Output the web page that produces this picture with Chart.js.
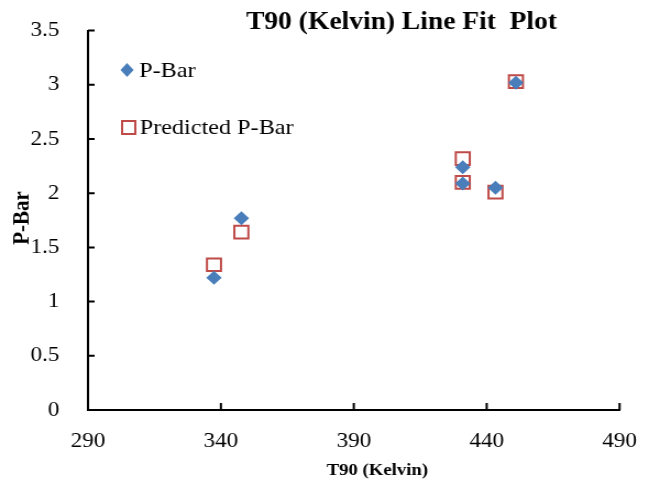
<!DOCTYPE html>
<html lang="en">
<head>
<meta charset="UTF-8">
<title>T90 (Kelvin) Line Fit Plot</title>
<script src="https://cdn.jsdelivr.net/npm/chart.js"></script>
<style>
    html, body { margin: 0; padding: 0; background: #fff; overflow: hidden; }
    /* the chart is laid out 590px wide and widened to 649px, which gives the wide serif lettering */
    #wrap { width: 590px; height: 486px; transform: scaleX(1.1); transform-origin: 0 0; }
</style>
</head>
<body>
<div id="wrap"><canvas id="fitChart"></canvas></div>

<script>
    // T90 (Kelvin) against measured and predicted P-Bar
    const t90 = [337.4, 347.7, 431.0, 431.0, 443.3, 451.0];
    const pBar = [1.22, 1.77, 2.24, 2.09, 2.05, 3.02];
    const predictedPBar = [1.34, 1.64, 2.32, 2.10, 2.01, 3.03];

    const xTicks = [290, 340, 390, 440, 490];
    const yTicks = [0, 0.5, 1, 1.5, 2, 2.5, 3, 3.5];

    const serif = "'Liberation Serif', 'Times New Roman', serif";
    const blue = '#4A7EBB';
    const red = '#BE4B48';

    const toPoints = ys => t90.map((x, i) => ({ x: x, y: ys[i] }));

    // tick marks drawn on the inside of the axes
    const innerTicks = {
        id: 'innerTicks',
        afterDraw(chart) {
            const { ctx, chartArea, scales } = chart;
            ctx.save();
            ctx.strokeStyle = '#000';
            ctx.lineWidth = 2;
            ctx.beginPath();
            scales.x.ticks.forEach(t => {
                const px = scales.x.getPixelForValue(t.value);
                ctx.moveTo(px, chartArea.bottom);
                ctx.lineTo(px, chartArea.bottom - 7);
            });
            scales.y.ticks.forEach(t => {
                const py = scales.y.getPixelForValue(t.value);
                ctx.moveTo(chartArea.left, py);
                ctx.lineTo(chartArea.left + 6, py);
            });
            ctx.stroke();
            ctx.restore();
        }
    };

    // chart title, axis titles and the legend inside the plot
    const labelsPlugin = {
        id: 'labelsPlugin',
        afterDraw(chart) {
            const ctx = chart.ctx;
            ctx.save();
            ctx.fillStyle = '#000';
            ctx.textBaseline = 'middle';
            ctx.textAlign = 'center';

            ctx.font = 'bold 25px ' + serif;
            ctx.fillText('T90 (Kelvin) Line Fit  Plot', 365, 23);

            ctx.font = 'bold 17px ' + serif;
            ctx.fillText('T90 (Kelvin)', 343, 471);

            ctx.save();
            ctx.font = 'bold 21px ' + serif;
            ctx.translate(21, 218);
            ctx.rotate(-Math.PI / 2);
            ctx.fillText('P-Bar', 0, 0);
            ctx.restore();

            // legend entries
            ctx.font = '22px ' + serif;
            ctx.textAlign = 'left';

            ctx.fillStyle = blue;
            ctx.beginPath();
            ctx.moveTo(115.5, 63);
            ctx.lineTo(121.5, 70);
            ctx.lineTo(115.5, 77);
            ctx.lineTo(109.5, 70);
            ctx.closePath();
            ctx.fill();
            ctx.fillStyle = '#000';
            ctx.fillText('P-Bar', 126.5, 71);

            ctx.strokeStyle = red;
            ctx.lineWidth = 2;
            ctx.strokeRect(111, 121, 12, 13);
            ctx.fillText('Predicted P-Bar', 127, 128);
            ctx.restore();
        }
    };

    new Chart(document.getElementById('fitChart'), {
        type: 'scatter',
        data: {
            datasets: [
                {
                    label: 'P-Bar',
                    data: toPoints(pBar),
                    pointStyle: 'rectRot',
                    pointRadius: 7,
                    pointHoverRadius: 7,
                    backgroundColor: blue,
                    borderColor: blue,
                    borderWidth: 0
                },
                {
                    label: 'Predicted P-Bar',
                    data: toPoints(predictedPBar),
                    pointStyle: 'rect',
                    pointRadius: 9,
                    pointHoverRadius: 9,
                    backgroundColor: 'rgba(255,255,255,0)',
                    borderColor: red,
                    borderWidth: 2
                }
            ]
        },
        options: {
            responsive: true,
            maintainAspectRatio: false,
            animation: false,
            layout: { padding: { left: 0, top: 30, right: 26, bottom: 0 } },
            plugins: {
                legend: { display: false },
                title: { display: false },
                tooltip: { enabled: false }
            },
            scales: {
                x: {
                    type: 'linear',
                    min: 290,
                    max: 490,
                    afterBuildTicks: s => { s.ticks = xTicks.map(v => ({ value: v })); },
                    afterFit: s => { s.height = 76; },
                    grid: { display: false },
                    border: { display: true, color: '#000', width: 2 },
                    ticks: {
                        color: '#000',
                        padding: 11,
                        maxRotation: 0,
                        font: { family: serif, size: 21 },
                        callback: v => String(v)
                    }
                },
                y: {
                    type: 'linear',
                    min: 0,
                    max: 3.5,
                    afterBuildTicks: s => { s.ticks = yTicks.map(v => ({ value: v })); },
                    afterFit: s => { s.width = 80; },
                    grid: { display: false },
                    border: { display: true, color: '#000', width: 2 },
                    ticks: {
                        color: '#000',
                        padding: 18,
                        font: { family: serif, size: 21 },
                        callback: v => String(v)
                    }
                }
            }
        },
        plugins: [innerTicks, labelsPlugin]
    });
</script>
</body>
</html>
